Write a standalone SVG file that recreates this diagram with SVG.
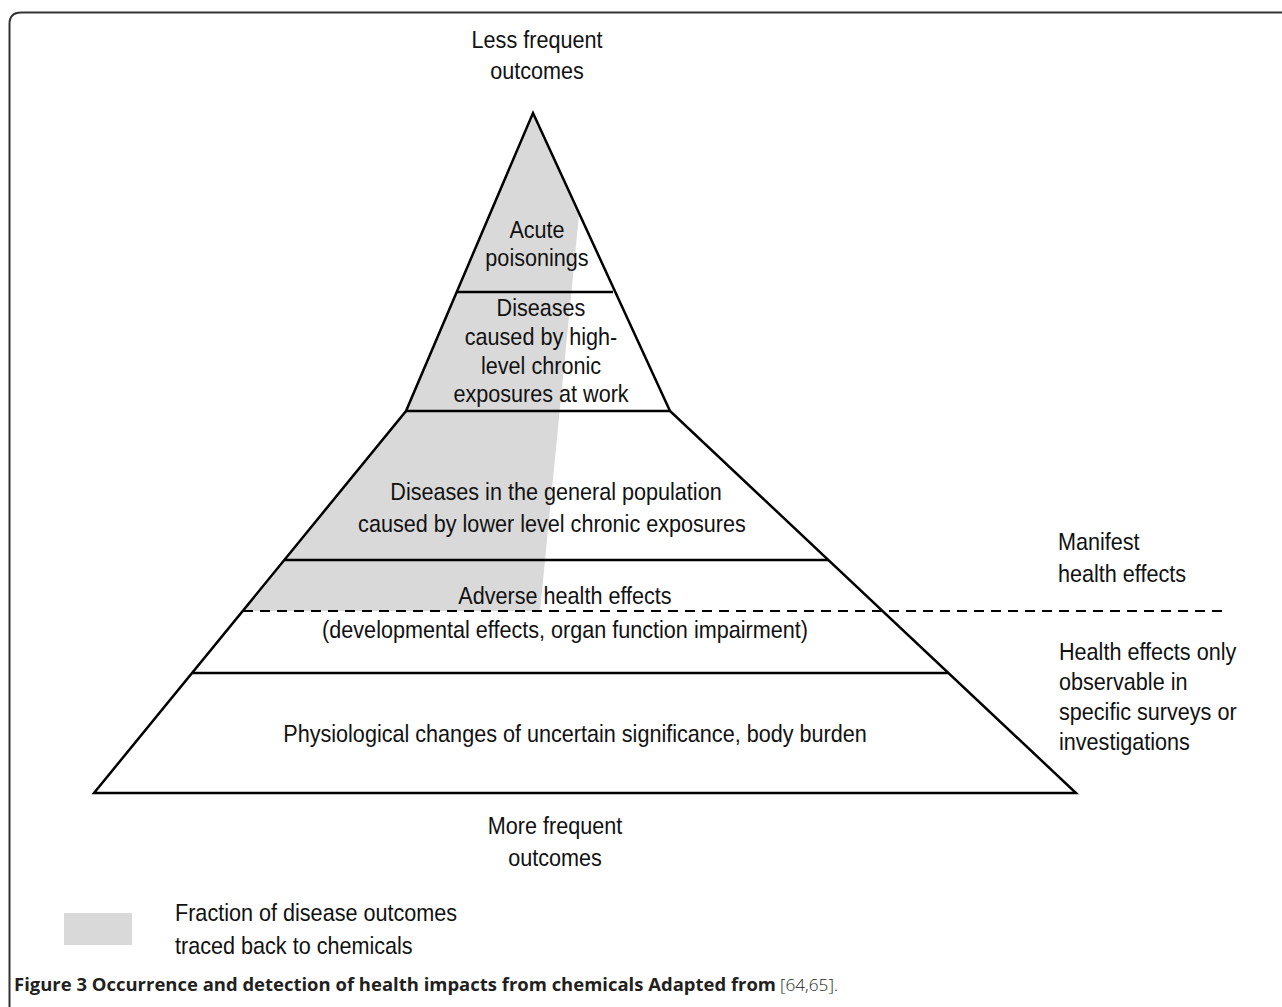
<svg xmlns="http://www.w3.org/2000/svg" width="1282" height="1007" viewBox="0 0 1282 1007">
<style>
.t{font-family:"Liberation Sans",Arial,sans-serif;font-size:24px;fill:#111;transform-box:fill-box;transform-origin:left center;transform:scaleX(0.9)}
.c{text-anchor:middle;transform-origin:center center}
.ln{stroke:#000;stroke-width:2.5;fill:none;stroke-linejoin:miter}
.dash{stroke:#000;stroke-width:2;stroke-dasharray:10 7;fill:none}
.gray{fill:#d9d9d9}
.cap{font-family:"Open Sans","Liberation Sans",sans-serif;font-size:17px;fill:#231f20}
</style>
<rect width="1282" height="1007" fill="#fff"/>
<path d="M9.5,1007 V24 Q9.5,12.5 21,12.5 H1282" fill="none" stroke="#333" stroke-width="2"/>
<g id="fraction-shade">
<polygon class="gray" points="533,113 579,215 540,611 243,611 406,411"/>
</g>
<g id="pyramid">
<polygon class="ln" points="533,113 670,411 1076,793 94,793 406,411"/>
</g>
<g id="connectors">
<line class="ln" x1="457" y1="292" x2="613" y2="292"/>
<line class="ln" x1="406" y1="411" x2="670" y2="411"/>
<line class="ln" x1="284" y1="560" x2="829" y2="560"/>
<line class="ln" x1="193" y1="673" x2="948" y2="673"/>
<line class="dash" x1="243" y1="611" x2="1222" y2="611"/>
</g>
<g id="top-label"><text class="t c" x="537" y="48">Less frequent</text><text class="t c" x="537" y="79">outcomes</text></g>
<g id="acute"><text class="t c" x="537" y="238">Acute</text><text class="t c" x="537" y="266">poisonings</text></g>
<g id="work"><text class="t c" x="541" y="316">Diseases</text><text class="t c" x="541" y="345">caused by high-</text><text class="t c" x="541" y="374">level chronic</text><text class="t c" x="541" y="402">exposures at work</text></g>
<g id="general"><text class="t c" x="556" y="500">Diseases in the general population</text><text class="t c" x="552" y="532">caused by lower level chronic exposures</text></g>
<g id="adverse"><text class="t c" x="565" y="604">Adverse health effects</text><text class="t c" x="565" y="638">(developmental effects, organ function impairment)</text></g>
<g id="physio"><text class="t c" x="575" y="742">Physiological changes of uncertain significance, body burden</text></g>
<g id="bottom-label"><text class="t c" x="555" y="834">More frequent</text><text class="t c" x="555" y="866">outcomes</text></g>
<g id="manifest"><text class="t" x="1058" y="550">Manifest</text><text class="t" x="1058" y="582">health effects</text></g>
<g id="observable"><text class="t" x="1059" y="660">Health effects only</text><text class="t" x="1059" y="690">observable in</text><text class="t" x="1059" y="720">specific surveys or</text><text class="t" x="1059" y="750">investigations</text></g>
<g id="legend"><rect class="gray" x="64" y="913" width="68" height="32"/><text class="t" x="175" y="921">Fraction of disease outcomes</text><text class="t" x="175" y="954">traced back to chemicals</text></g>
<g id="caption"><text class="cap" x="14" y="991" font-weight="bold" textLength="762" lengthAdjust="spacingAndGlyphs">Figure 3 Occurrence and detection of health impacts from chemicals Adapted from</text><text class="cap" x="780" y="991" font-weight="300" fill="#333" textLength="58" lengthAdjust="spacingAndGlyphs">[64,65].</text></g>
</svg>
